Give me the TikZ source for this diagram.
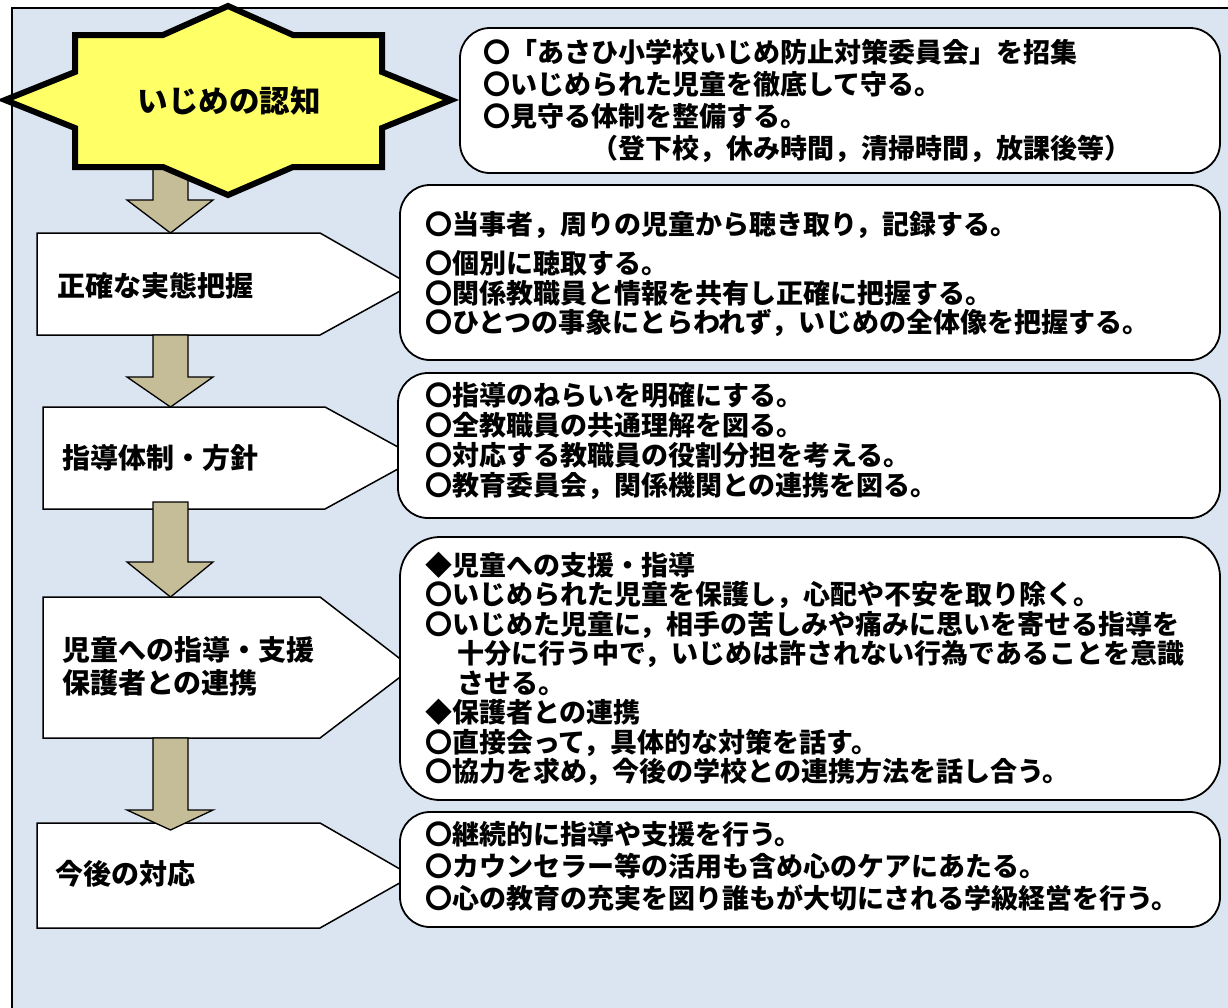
\documentclass[tikz,border=0pt]{standalone}
\usepackage{fontspec}
\setmainfont{Noto Sans CJK JP}
\definecolor{bgblue}{HTML}{DBE5F1}
\definecolor{staryellow}{HTML}{FFFF66}
\definecolor{tan}{HTML}{C4BD97}
\begin{document}
\begin{tikzpicture}[x=1pt,y=-1pt,
  every node/.style={inner sep=0pt,outer sep=0pt},
  pentabox/.style={draw=black,fill=white,line width=1.5pt,line join=miter},
  blockarrow/.style={draw=black,fill=tan,line width=1.3pt,line join=miter},
  infobox/.style={draw=black,fill=white,line width=1.8pt},
  labeltext/.style={font=\bfseries\fontsize{28}{33}\selectfont,anchor=west,align=left},
  infotext/.style={font=\bfseries\fontsize{27}{29.5}\selectfont,anchor=west,align=left}]
\useasboundingbox (0,0) rectangle (1228,1007);
% background panel
\fill[bgblue] (12,8) rectangle (1240,1020);
\draw[line width=1.5pt] (12,1020) -- (12,8) -- (1240,8);

% pentagons
\draw[pentabox] (37,233) -- (320,233) -- (411,285) -- (320,335) -- (37,335) -- cycle;
\draw[pentabox] (43,407) -- (325,407) -- (418,458) -- (325,509) -- (43,509) -- cycle;
\draw[pentabox] (43,597) -- (320,597) -- (412,668) -- (320,738) -- (43,738) -- cycle;
\draw[pentabox] (37,823) -- (320,823) -- (412,876) -- (320,928) -- (37,928) -- cycle;

% block arrows
\newcommand{\downblock}[4]{%
  \draw[blockarrow] (153,#1) -- (188,#1) -- (188,#2) -- (213,#2) -- (170.5,#3)
    -- (127,#2) -- (153,#2) -- cycle;}
\downblock{160}{200}{233}{}
\downblock{335}{377}{407}{}
\downblock{502}{562}{597}{}
\downblock{738}{810}{830}{}

% star
\draw[line width=6pt,line join=miter,fill=staryellow]
  (228,6) -- (293,35) -- (382,35) -- (382,72) -- (451,100) -- (382,128)
  -- (382,167) -- (293,167) -- (228,195) -- (163,167) -- (75,167)
  -- (75,128) -- (5,100) -- (75,72) -- (75,35) -- (163,35) -- cycle;
\node[font=\bfseries\fontsize{30.5}{34}\selectfont] (ninchi) at (229,101) {いじめの認知};

% labels
\node[labeltext] (jittai) at (57,286) {正確な実態把握};
\node[labeltext] (shido) at (62,458) {指導体制・方針};
\node[labeltext] (jidou) at (62,666) {児童への指導・支援\\保護者との連携};
\node[labeltext] (kongo) at (55,874) {今後の対応};

% info boxes
\draw[infobox,rounded corners=30pt] (460,28) rectangle (1220,173);
\draw[infobox,rounded corners=30pt] (400,185) rectangle (1220,360);
\draw[infobox,rounded corners=30pt] (398,373) rectangle (1220,518);
\draw[infobox,rounded corners=40pt] (400,537) rectangle (1220,800);
\draw[infobox,rounded corners=30pt] (400,812) rectangle (1220,927);

\node[infotext,font=\bfseries\fontsize{27}{32}\selectfont] (t1) at (483,101) {〇「あさひ小学校いじめ防止対策委員会」を招集\\〇いじめられた児童を徹底して守る。\\〇見守る体制を整備する。\\\hspace*{4em}（登下校，休み時間，清掃時間，放課後等）};
\node[infotext] (t2) at (425,274) {〇当事者，周りの児童から聴き取り，記録する。\\[10pt]〇個別に聴取する。\\〇関係教職員と情報を共有し正確に把握する。\\〇ひとつの事象にとらわれず，いじめの全体像を把握する。};
\node[infotext,font=\bfseries\fontsize{27}{30}\selectfont] (t3) at (425,441) {〇指導のねらいを明確にする。\\〇全教職員の共通理解を図る。\\〇対応する教職員の役割分担を考える。\\〇教育委員会，関係機関との連携を図る。};
\node[infotext] (t4) at (425,669) {◆児童への支援・指導\\〇いじめられた児童を保護し，心配や不安を取り除く。\\〇いじめた児童に，相手の苦しみや痛みに思いを寄せる指導を\\\hspace*{32pt}十分に行う中で，いじめは許されない行為であることを意識\\\hspace*{32pt}させる。\\◆保護者との連携\\〇直接会って，具体的な対策を話す。\\〇協力を求め，今後の学校との連携方法を話し合う。};
\node[infotext,font=\bfseries\fontsize{27}{32}\selectfont] (t5) at (425,866) {〇継続的に指導や支援を行う。\\〇カウンセラー等の活用も含め心のケアにあたる。\\〇心の教育の充実を図り誰もが大切にされる学級経営を行う。};
\end{tikzpicture}
\end{document}
